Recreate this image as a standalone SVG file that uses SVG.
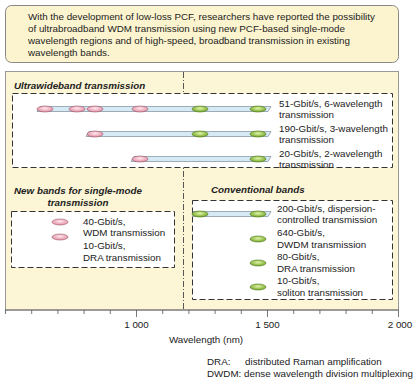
<svg xmlns="http://www.w3.org/2000/svg" width="417" height="384" viewBox="0 0 417 384">
<style>
text{font-family:"Liberation Sans",Arial,sans-serif;font-size:9.8px;fill:#222}
.t{font-weight:bold;font-style:italic;font-size:9.8px}
.box{fill:#fff;stroke:#333;stroke-width:1;stroke-dasharray:6,3}
.bar{fill:#d6eaf6;stroke:#7d8d99;stroke-width:0.7}
.pk{fill:url(#gp);stroke:#9a5a68;stroke-width:0.6}
.gr{fill:url(#gg);stroke:#4f7a18;stroke-width:0.6}
.tk{stroke:#555;stroke-width:0.8}
</style>
<defs>
<radialGradient id="gp" cx="0.5" cy="0.4" r="0.6"><stop offset="0" stop-color="#fde8ee"/><stop offset="1" stop-color="#e48aa2"/></radialGradient>
<radialGradient id="gg" cx="0.5" cy="0.4" r="0.6"><stop offset="0" stop-color="#e2f5a8"/><stop offset="1" stop-color="#6fa524"/></radialGradient>
</defs>
<g id="intro">
<rect x="5.5" y="5.5" width="393" height="57" rx="6" fill="#fcf4cf" stroke="#888" stroke-width="1"/>
<text x="28" y="19.5">With the development of low-loss PCF, researchers have reported the possibility</text>
<text x="28" y="31.5">of ultrabroadband WDM transmission using new PCF-based single-mode</text>
<text x="28" y="43.5">wavelength regions and of high-speed, broadband transmission in existing</text>
<text x="28" y="55.5">wavelength bands.</text>
</g>
<g id="panel">
<rect x="5.5" y="71.5" width="393" height="238.5" fill="#fdf6d6" stroke="#999" stroke-width="1"/>
<line x1="183.5" y1="72" x2="183.5" y2="310" stroke="#444" stroke-width="0.9" stroke-dasharray="6,2,1,2"/>
</g>
<g id="axis">
<line x1="5" y1="310" x2="398.5" y2="310" class="tk"/>
<path class="tk" d="M5.5 310v4M31.7 310v4M57.9 310v4M84.1 310v4M110.3 310v4M136.5 310v7M162.7 310v4M188.9 310v4M215.1 310v4M241.3 310v4M267.5 310v7M293.7 310v4M319.9 310v4M346.1 310v4M372.3 310v4M398.5 310v7"/>
<text x="136.5" y="328" text-anchor="middle">1 000</text>
<text x="267.5" y="328" text-anchor="middle">1 500</text>
<text x="400" y="328" text-anchor="middle">2 000</text>
<text x="206" y="343" text-anchor="middle">Wavelength (nm)</text>
</g>
<g id="ultrawideband">
<text class="t" x="14" y="89">Ultrawideband transmission</text>
<rect class="box" x="12.5" y="93.5" width="380" height="74"/>
<path class="bar" d="M40 106.5H271L268 111.5H37Z"/>
<path class="bar" d="M89 131.5H271L268 136.5H86Z"/>
<path class="bar" d="M134 156.5H271L268 161.5H131Z"/>
<ellipse class="pk" cx="45" cy="109" rx="8" ry="3"/>
<ellipse class="pk" cx="77" cy="109" rx="8" ry="3"/>
<ellipse class="pk" cx="95" cy="109" rx="8" ry="3"/>
<ellipse class="pk" cx="140" cy="109" rx="8" ry="3"/>
<ellipse class="gr" cx="200" cy="109" rx="8" ry="3"/>
<ellipse class="gr" cx="258" cy="109" rx="8" ry="3"/>
<ellipse class="pk" cx="95" cy="134" rx="8" ry="3"/>
<ellipse class="gr" cx="200" cy="134" rx="8" ry="3"/>
<ellipse class="gr" cx="258" cy="134" rx="8" ry="3"/>
<ellipse class="pk" cx="140" cy="159" rx="8" ry="3"/>
<ellipse class="gr" cx="258" cy="159" rx="8" ry="3"/>
<text x="279" y="106.5">51-Gbit/s, 6-wavelength</text>
<text x="279" y="117.5">transmission</text>
<text x="279" y="131.5">190-Gbit/s, 3-wavelength</text>
<text x="279" y="142.5">transmission</text>
<text x="279" y="157">20-Gbit/s, 2-wavelength</text>
<text x="279" y="168">transmission</text>
</g>
<g id="newbands">
<text class="t" x="78" y="194" text-anchor="middle">New bands for single-mode</text>
<text class="t" x="78" y="206" text-anchor="middle">transmission</text>
<rect class="box" x="11.5" y="211.5" width="163" height="56"/>
<ellipse class="pk" cx="60" cy="222" rx="8" ry="3"/>
<ellipse class="pk" cx="60" cy="237" rx="8" ry="3"/>
<text x="83" y="225">40-Gbit/s,</text>
<text x="83" y="236">WDM transmission</text>
<text x="83" y="248.5">10-Gbit/s,</text>
<text x="83" y="260.5">DRA transmission</text>
</g>
<g id="conventional">
<text class="t" x="211" y="193">Conventional bands</text>
<rect class="box" x="192.5" y="200.5" width="200" height="99"/>
<path class="bar" d="M193 211.5H271L268 216.5H193Z"/>
<ellipse class="gr" cx="200" cy="214" rx="8" ry="3"/>
<ellipse class="gr" cx="258" cy="214" rx="8" ry="3"/>
<ellipse class="gr" cx="258" cy="239" rx="8" ry="3"/>
<ellipse class="gr" cx="258" cy="263" rx="8" ry="3"/>
<ellipse class="gr" cx="258" cy="287" rx="8" ry="3"/>
<text x="277" y="211.5">200-Gbit/s, dispersion-</text>
<text x="277" y="223">controlled transmission</text>
<text x="277" y="236">640-Gbit/s,</text>
<text x="277" y="248">DWDM transmission</text>
<text x="277" y="260">80-Gbit/s,</text>
<text x="277" y="272">DRA transmission</text>
<text x="277" y="284">10-Gbit/s,</text>
<text x="277" y="296">soliton transmission</text>
</g>
<g id="legend">
<text x="207" y="365">DRA:</text>
<text x="245" y="365">distributed Raman amplification</text>
<text x="207" y="377">DWDM: dense wavelength division multiplexing</text>
</g>
</svg>
